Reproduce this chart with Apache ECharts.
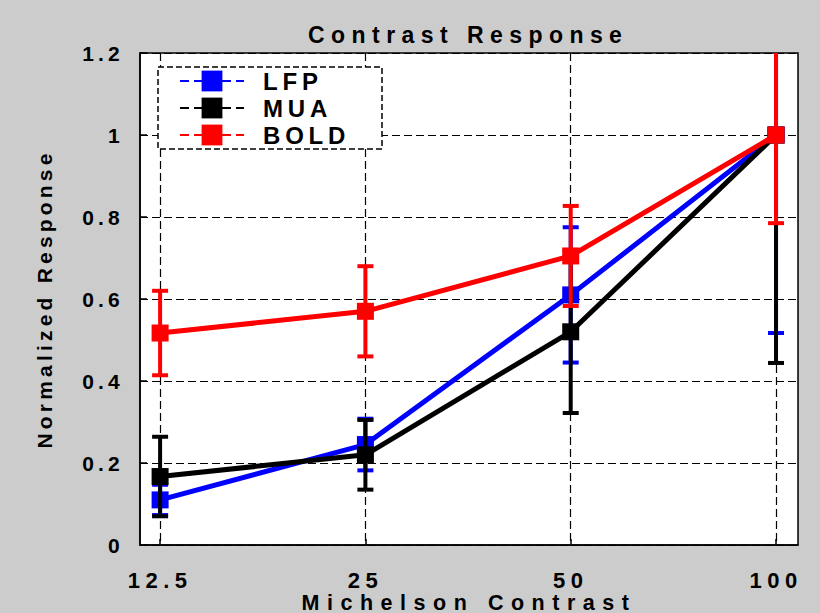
<!DOCTYPE html>
<html>
<head>
<meta charset="utf-8">
<script src="https://cdn.jsdelivr.net/npm/echarts@6/dist/echarts.min.js"></script>
<style>
  html, body { margin: 0; padding: 0; background: #cccccc; }
  #chart { width: 820px; height: 613px; }
  /* widely tracked lettering */
  #chart svg text { letter-spacing: 0.2em; }
  #chart svg text[style*="23px"] { letter-spacing: 0.28em; }
  #chart svg text[style*="22px"] { letter-spacing: 0.25em; }
  #chart svg text[style*="21.5px"] { letter-spacing: 0.35em; }
</style>
</head>
<body>
<div id="chart"></div>
<script>
// Michelson contrast levels (%) and their tick labels
const contrast = [12.5, 25, 50, 100];
const xTickLabels = ['12.5', '25', '50', '100'];
const contrastRange = [11.68, 107.7];

// normalized responses and error half-widths
const lfp = [0.11, 0.245, 0.61, 1.0];
const lfpErr = [0.037, 0.063, 0.165, 0.483];
const mua = [0.167, 0.22, 0.52, 1.0];
const muaErr = [0.097, 0.085, 0.198, 0.556];
const bold = [0.517, 0.57, 0.705, 1.0];
const boldErr = [0.103, 0.11, 0.122, 0.215];

const FONT = 'Liberation Sans';
const logX = contrast.map(c => Math.log2(c));

function lineSeries(name, color, values, z) {
  return {
    name: name,
    type: 'line',
    z: z,
    data: logX.map((x, i) => [x, values[i]]),
    symbol: 'rect',
    symbolSize: 17,
    lineStyle: { color: color, width: 5 },
    itemStyle: { color: color },
    emphasis: { disabled: true }
  };
}

function errorSeries(color, values, errs, z) {
  return {
    type: 'custom',
    z: z,
    clip: true,
    data: logX.map((x, i) => [x, values[i], errs[i]]),
    encode: { x: 0, y: 1 },
    renderItem: function (params, api) {
      const x = api.value(0), y = api.value(1), e = api.value(2);
      const hi = api.coord([x, y + e]);
      const lo = api.coord([x, y - e]);
      const half = 8;
      const style = { stroke: color, lineWidth: 4 };
      return {
        type: 'group',
        children: [
          { type: 'line', shape: { x1: hi[0], y1: hi[1], x2: lo[0], y2: lo[1] }, style: style },
          { type: 'line', shape: { x1: hi[0] - half, y1: hi[1], x2: hi[0] + half, y2: hi[1] }, style: style },
          { type: 'line', shape: { x1: lo[0] - half, y1: lo[1], x2: lo[0] + half, y2: lo[1] }, style: style }
        ]
      };
    }
  };
}

const chart = echarts.init(document.getElementById('chart'), null, { renderer: 'svg' });

chart.setOption({
  animation: false,
  backgroundColor: '#cccccc',
  title: {
    text: 'Contrast Response',
    left: 303,
    top: 18,
    textStyle: { fontFamily: FONT, fontSize: 23, fontWeight: 'bold', color: '#000' }
  },
  legend: {
    data: ['LFP', 'MUA', 'BOLD'],
    orient: 'vertical',
    left: 158,
    top: 67,
    itemWidth: 64,
    itemHeight: 26,
    itemGap: 3,
    padding: [2, 51, 2, 21],
    backgroundColor: '#ffffff',
    borderColor: '#000',
    borderWidth: 1.5,
    borderType: 'dashed',
    selectedMode: false,
    lineStyle: { width: 2, type: [9, 5] },
    textStyle: { fontFamily: FONT, fontSize: 24, fontWeight: 'bold', color: '#000', padding: [0, 0, 0, 14] }
  },
  grid: {
    left: 140,
    right: 22,
    top: 53,
    bottom: 68,
    outerBoundsMode: 'none',
    containLabel: false,
    show: true,
    backgroundColor: '#ffffff',
    borderColor: '#000',
    borderWidth: 1.5
  },
  xAxis: {
    type: 'value',
    min: Math.log2(contrastRange[0]),
    max: Math.log2(contrastRange[1]),
    name: 'Michelson Contrast',
    nameLocation: 'middle',
    nameGap: 46.5,
    nameMoveOverlap: false,
    nameTextStyle: { fontFamily: FONT, fontSize: 21.5, fontWeight: 'bold', color: '#000' },
    axisLine: { show: true, lineStyle: { color: '#000', width: 1.5 } },
    axisTick: { show: true, inside: true, length: 6, customValues: logX, lineStyle: { color: '#000', width: 1.5 } },
    axisLabel: {
      customValues: logX,
      margin: 24,
      fontFamily: FONT, fontSize: 22, fontWeight: 'bold', color: '#000',
      formatter: function (v) {
        const i = logX.findIndex(x => Math.abs(x - v) < 1e-6);
        return i >= 0 ? xTickLabels[i] : '';
      }
    },
    splitLine: { show: true, lineStyle: { color: '#000', width: 1.2, type: [8, 4] } }
  },
  yAxis: {
    type: 'value',
    min: 0,
    max: 1.2,
    interval: 0.2,
    name: 'Normalized Response',
    nameLocation: 'middle',
    nameGap: 85,
    nameMoveOverlap: false,
    nameTextStyle: { fontFamily: FONT, fontSize: 21, fontWeight: 'bold', color: '#000' },
    axisLine: { show: true, lineStyle: { color: '#000', width: 1.5 } },
    axisTick: { show: true, inside: true, length: 7, lineStyle: { color: '#000', width: 1.5 } },
    axisLabel: { margin: 16, fontFamily: FONT, fontSize: 21, fontWeight: 'bold', color: '#000' },
    splitLine: { show: true, lineStyle: { color: '#000', width: 1.2, type: [8, 4] } }
  },
  series: [
    lineSeries('LFP', '#0000ff', lfp, 2),
    errorSeries('#0000ff', lfp, lfpErr, 3),
    lineSeries('MUA', '#000000', mua, 4),
    errorSeries('#000000', mua, muaErr, 5),
    lineSeries('BOLD', '#ff0000', bold, 6),
    errorSeries('#ff0000', bold, boldErr, 7)
  ]
});
</script>
</body>
</html>
